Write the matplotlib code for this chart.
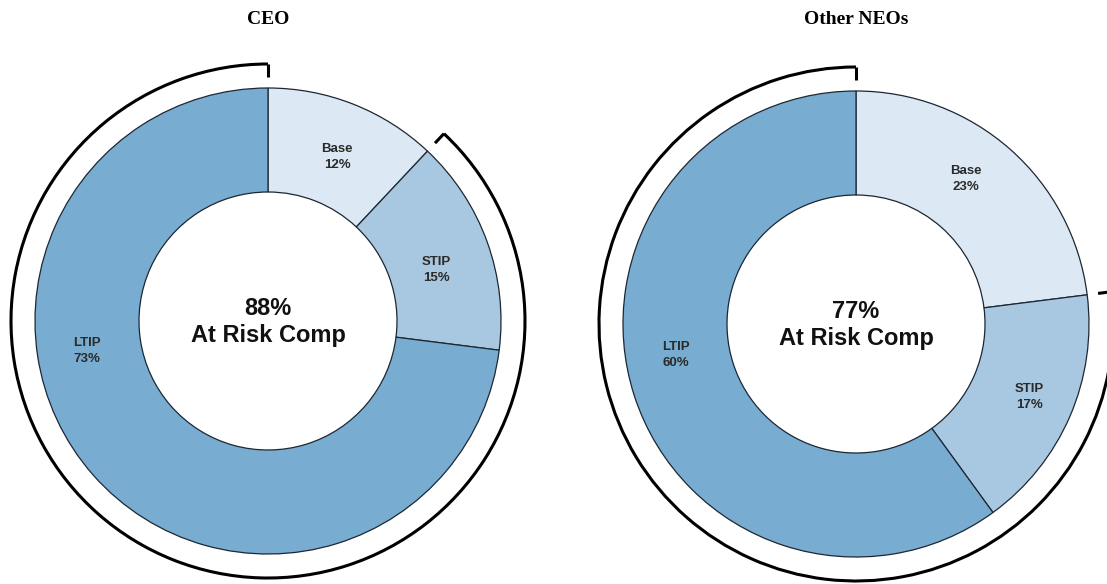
import numpy as np
import matplotlib
matplotlib.use('Agg')
import matplotlib.pyplot as plt
from matplotlib.patches import Arc

# data
panels = ['CEO', 'Other NEOs']
segments = ['Base', 'STIP', 'LTIP']
ceo_mix = [12, 15, 73]
neo_mix = [23, 17, 60]
at_risk = ['STIP', 'LTIP']  # what the bracket covers

colors = ['#dce8f3', '#a8c7e0', '#78acd1']
edge = '#1c2733'

W, H = 1107, 584
fig = plt.figure(figsize=(W / 100, H / 100), dpi=100)
ax = fig.add_axes([0, 0, 1, 1])

# layout in pixels (y measured from top of the image)
centers = [(268, 321), (856, 324)]
r_out, r_in = 233, 129
r_brk, brk_tick = 257, 13
# label spots as (angle deg, radius px) per panel, Base / STIP / LTIP
label_spots = [
    [(67.2, 178), (16.8, 176), (189.4, 184)],
    [(52.8, 182), (-22.9, 188), (189.8, 183)],
]


def up(y):
    return H - y


for title, mix, (cx, cy), spots in zip(panels, [ceo_mix, neo_mix], centers, label_spots):
    ax.pie(mix, colors=colors, startangle=90, counterclock=False,
           radius=r_out, center=(cx, up(cy)),
           wedgeprops=dict(width=r_out - r_in, edgecolor=edge, linewidth=0.9))

    # segment labels
    for name, val, (ang, r_lab) in zip(segments, mix, spots):
        lx = cx + r_lab * np.cos(np.radians(ang))
        ly = up(cy) + r_lab * np.sin(np.radians(ang))
        ax.text(lx, ly, f'{name}\n{val}%', ha='center', va='center',
                fontsize=9.5, fontweight='bold', family='Liberation Sans',
                color='#2a2a2a', linespacing=1.4)

    # centre text
    risk = sum(v for n, v in zip(segments, mix) if n in at_risk)
    ax.text(cx, up(cy) - 1, f'{risk}%\nAt Risk Comp', ha='center', va='center',
            fontsize=17, family='Liberation Sans', fontweight='bold',
            color='#111111', linespacing=1.2)

    # bracket around the at-risk part
    a0 = 90 - 360 * mix[0] / 100
    ax.add_patch(Arc((cx, up(cy)), 2 * r_brk, 2 * r_brk, theta1=90, theta2=a0,
                     color='black', linewidth=2.2))
    for a in [90, a0]:
        t = np.radians(a)
        ax.plot([cx + r_brk * np.cos(t), cx + (r_brk - brk_tick) * np.cos(t)],
                [up(cy) + r_brk * np.sin(t), up(cy) + (r_brk - brk_tick) * np.sin(t)],
                color='black', linewidth=2.2, solid_capstyle='butt')

    ax.text(cx, up(20), title, ha='center', va='center', fontsize=14,
            fontweight='bold', family='Liberation Serif', color='black')

ax.set_xlim(0, W)
ax.set_ylim(0, H)
ax.set_aspect('equal')
ax.axis('off')

fig.savefig('out.png', dpi=100, facecolor='white')
